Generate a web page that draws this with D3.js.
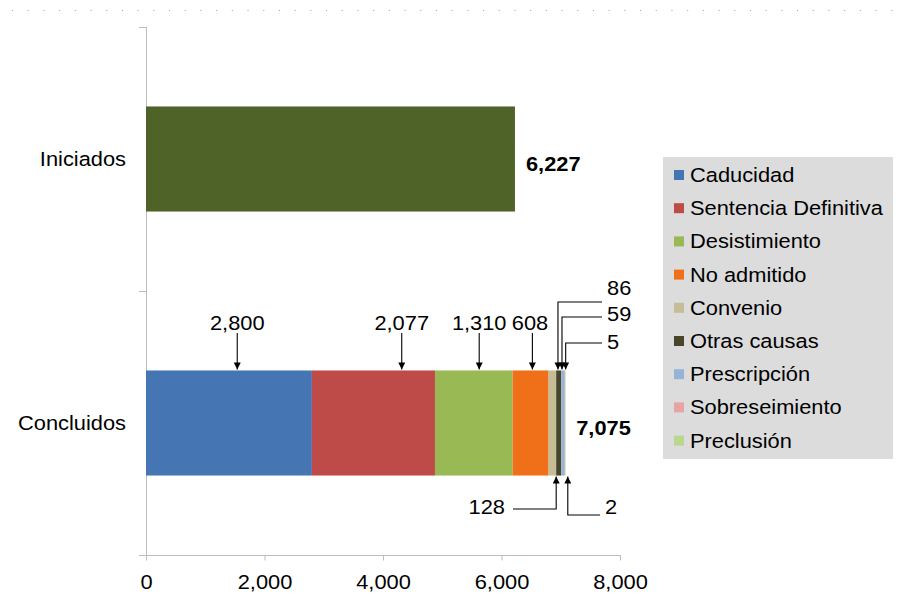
<!DOCTYPE html>
<html>
<head>
<meta charset="utf-8">
<script src="https://cdn.jsdelivr.net/npm/d3@7"></script>
<style>
  html, body { margin: 0; padding: 0; background: #fff; }
  svg { display: block; }
  text { font-family: "Liberation Sans", Arial, sans-serif; fill: #000; }
</style>
</head>
<body>
<svg id="chart" width="898" height="599"></svg>
<script>
// ---- data ----
const categories = ["Iniciados", "Concluidos"];
const iniciadosValue = 6227;
const causas = ["Caducidad", "Sentencia Definitiva", "Desistimiento", "No admitido",
  "Convenio", "Otras causas", "Prescripción", "Sobreseimiento", "Preclusión"];
const concluidosValues = [2800, 2077, 1310, 608, 128, 86, 59, 5, 2];
const xTicks = [0, 2000, 4000, 6000, 8000];

// ---- styling ----
const causaColors = ["#4675B4", "#BE4B48", "#98B954", "#F07019", "#C4BD97",
  "#48452B", "#95B3D7", "#E6A5A3", "#B9D78E"];
const iniciadosColor = "#4F6228";
const SX = 1.12;          // horizontal text stretch
const FS = 19.5;          // base font size
const fmt = d3.format(",");

const svg = d3.select("#chart");

// dotted rule along the top edge
svg.append("line")
  .attr("x1", 12).attr("x2", 893).attr("y1", 10.5).attr("y2", 10.5)
  .attr("stroke", "#a8a8a8").attr("stroke-width", 1.1)
  .attr("stroke-dasharray", "1.1 14.6");

const x = d3.scaleLinear().domain([0, 8000]).range([146, 620]);
const y = d3.scaleBand().domain(categories).range([27, 555]).padding(0);
const barH = y.bandwidth() * 0.398;
const barY = c => y(c) + (y.bandwidth() - barH) / 2;
const midY = c => y(c) + y.bandwidth() / 2;

// helper: stretched text
function label(g, px, py, str, anchor, opts = {}) {
  return g.append("g").attr("transform", `translate(${px},${py}) scale(${SX},1)`)
    .append("text")
    .attr("text-anchor", anchor)
    .attr("dominant-baseline", "central")
    .attr("font-size", opts.size || FS)
    .attr("font-weight", opts.weight || "normal")
    .text(str);
}

// ---- axes ----
const axisColor = "#BDBDBD";
const yAxisG = svg.append("g");
yAxisG.append("line").attr("x1", 146.5).attr("x2", 146.5).attr("y1", 27).attr("y2", 555)
  .attr("stroke", axisColor);
// tick marks at the band boundaries
[y.range()[0], y("Concluidos"), y.range()[1]].forEach(yy => {
  yAxisG.append("line").attr("x1", 139).attr("x2", 146.5)
    .attr("y1", yy + 0.5).attr("y2", yy + 0.5).attr("stroke", axisColor);
});

const xAxis = svg.append("g").attr("transform", "translate(0,555.5)")
  .call(d3.axisBottom(x).tickValues(xTicks).tickFormat(fmt).tickSize(5).tickPadding(15));
xAxis.select(".domain").attr("stroke", axisColor).attr("d", "M143.5,0H620.5");
xAxis.selectAll(".tick line").attr("stroke", axisColor);
xAxis.selectAll(".tick text")
  .attr("font-size", FS).attr("font-family", "Liberation Sans, Arial, sans-serif")
  .attr("fill", "#000").attr("transform", `scale(${SX},1)`);

// category labels
categories.forEach(c => label(svg, 126, midY(c), c, "end"));

// ---- bars ----
svg.append("rect")
  .attr("x", x(0)).attr("y", barY("Iniciados"))
  .attr("width", x(iniciadosValue) - x(0)).attr("height", barH)
  .attr("fill", iniciadosColor);

const stack = [];
let acc = 0;
concluidosValues.forEach((v, i) => { stack.push({ name: causas[i], v, x0: acc, x1: acc + v, color: causaColors[i] }); acc += v; });
const concluidosTotal = acc;

svg.append("g").selectAll("rect").data(stack).join("rect")
  .attr("x", d => x(d.x0)).attr("y", barY("Concluidos"))
  .attr("width", d => Math.max(0.4, x(d.x1) - x(d.x0))).attr("height", barH)
  .attr("fill", d => d.color);

// totals
label(svg, x(iniciadosValue) + 11, midY("Iniciados") + 5, fmt(iniciadosValue), "start", { weight: "bold" });
label(svg, x(concluidosTotal) + 11, midY("Concluidos") + 5, fmt(concluidosTotal), "start", { weight: "bold" });

// ---- value call-outs ----
const defs = svg.append("defs");
defs.append("marker").attr("id", "arr").attr("viewBox", "0 0 10 10")
  .attr("refX", 10).attr("refY", 5).attr("markerWidth", 7).attr("markerHeight", 7)
  .attr("markerUnits", "userSpaceOnUse").attr("orient", "auto")
  .append("path").attr("d", "M0,0L10,5L0,10Z").attr("fill", "#000");

// where along each segment the arrow lands, and where its label sits
const calloutLayout = [
  { at: 0.55, side: "top" },
  { at: 0.73, side: "top" },
  { at: 0.57, side: "top" },
  { at: 0.55, side: "top", lx: 530 },
  { at: 1.0, side: "bottom", lineY: 509, lx: 505, ly: 507, anchor: "end" },
  { at: 0.35, side: "topside", lineY: 302, lx: 607, ly: 288 },
  { at: 0.2, side: "topside", lineY: 317, lx: 607, ly: 314 },
  { at: 1.0, side: "topside", lineY: 343, lx: 607, ly: 342, dx: 0.6 },
  { at: 1.0, side: "bottom", lineY: 515, lx: 605, ly: 507, anchor: "start", dx: 2.6 }
];

const barTop = barY("Concluidos");
const barBot = barTop + barH;
const cg = svg.append("g");
stack.forEach((d, i) => {
  const L = calloutLayout[i];
  const ax = x(d.x0 + L.at * d.v) + (L.dx || 0);
  if (L.side === "top") {
    cg.append("line").attr("x1", ax).attr("x2", ax).attr("y1", 333).attr("y2", barTop - 1)
      .attr("stroke", "#000").attr("stroke-width", 1.1).attr("marker-end", "url(#arr)");
    label(cg, L.lx !== undefined ? L.lx : ax, 323, fmt(d.v), "middle");
  } else if (L.side === "topside") {
    cg.append("path").attr("d", `M${L.lx - 5},${L.lineY}H${ax}V${barTop - 1}`)
      .attr("stroke", "#000").attr("stroke-width", 1.1).attr("fill", "none")
      .attr("marker-end", "url(#arr)");
    label(cg, L.lx, L.ly, fmt(d.v), "start");
  } else {
    const startX = L.anchor === "end" ? L.lx + 8 : L.lx - 5;
    cg.append("path").attr("d", `M${startX},${L.lineY}H${ax}V${barBot + 1}`)
      .attr("stroke", "#000").attr("stroke-width", 1.1).attr("fill", "none")
      .attr("marker-end", "url(#arr)");
    label(cg, L.lx, L.ly, fmt(d.v), L.anchor);
  }
});

// ---- legend ----
const lg = svg.append("g").attr("transform", "translate(663,157)");
lg.append("rect").attr("width", 230).attr("height", 302).attr("fill", "#DCDCDC");
causas.forEach((c, i) => {
  const cy = 18 + i * 33.2;
  lg.append("rect").attr("x", 11).attr("y", cy - 5).attr("width", 10).attr("height", 10)
    .attr("fill", causaColors[i]);
  label(lg, 27, cy, c, "start");
});
</script>
</body>
</html>
